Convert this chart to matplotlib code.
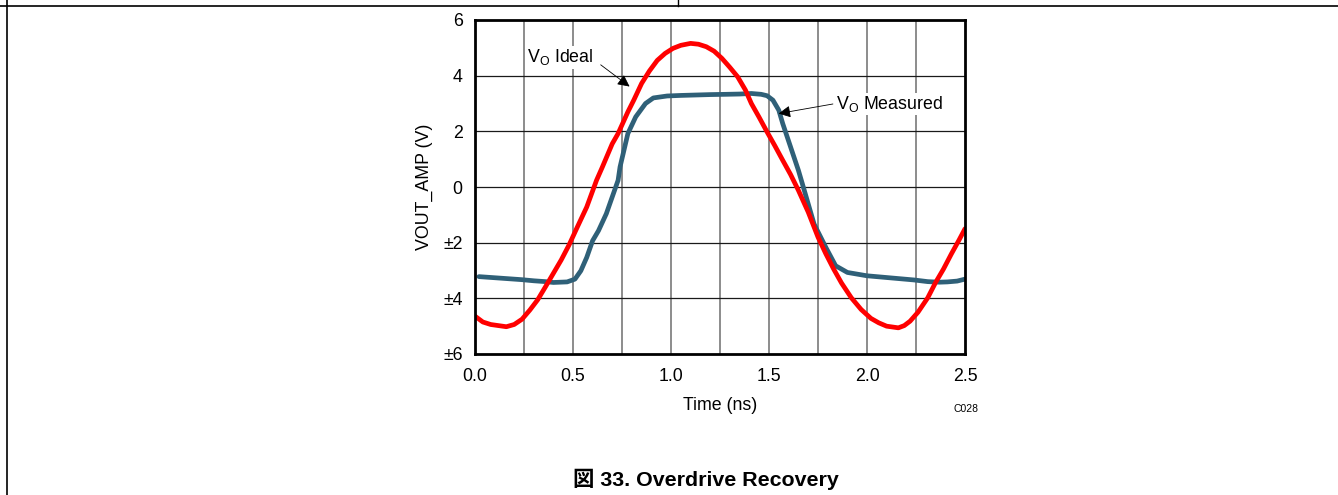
import matplotlib
matplotlib.use("Agg")
import matplotlib.pyplot as plt
from matplotlib.lines import Line2D

plt.rcParams['font.family'] = ['Liberation Sans', 'Noto Sans CJK JP', 'DejaVu Sans']
plt.rcParams['mathtext.fontset'] = 'custom'
plt.rcParams['mathtext.rm'] = 'Liberation Sans'

# V_O Ideal (red)
ideal_t = [0.0, 0.04, 0.08, 0.12, 0.16, 0.20, 0.24, 0.28, 0.32, 0.36, 0.40, 0.44, 0.48,
           0.52, 0.57, 0.62, 0.65, 0.70, 0.73, 0.78, 0.81, 0.85, 0.89, 0.93, 0.97, 1.01,
           1.05, 1.10, 1.14, 1.18, 1.22, 1.26, 1.30, 1.34, 1.38, 1.41, 1.45, 1.49, 1.53,
           1.57, 1.61, 1.65, 1.70, 1.75, 1.79, 1.83, 1.87, 1.92, 1.97, 2.02, 2.06, 2.10,
           2.16, 2.19, 2.22, 2.26, 2.31, 2.35, 2.39, 2.43, 2.47, 2.50]
ideal_v = [-4.64, -4.85, -4.94, -4.98, -5.02, -4.94, -4.75, -4.42, -4.05, -3.58, -3.10,
           -2.62, -2.08, -1.47, -0.72, 0.24, 0.72, 1.55, 1.92, 2.70, 3.12, 3.72, 4.17,
           4.55, 4.80, 4.98, 5.09, 5.16, 5.13, 5.04, 4.88, 4.62, 4.30, 3.96, 3.48, 3.00,
           2.50, 1.98, 1.48, 0.96, 0.45, -0.12, -0.90, -1.80, -2.40, -2.95, -3.45, -3.98,
           -4.40, -4.72, -4.88, -5.00, -5.06, -4.98, -4.82, -4.50, -3.98, -3.43, -2.95,
           -2.41, -1.90, -1.50]

# V_O Measured (blue)
meas_t = [0.02, 0.08, 0.16, 0.24, 0.30, 0.36, 0.40, 0.47, 0.51, 0.54, 0.57, 0.60, 0.63,
          0.67, 0.70, 0.73, 0.74, 0.78, 0.82, 0.87, 0.91, 0.98, 1.05, 1.10, 1.20, 1.28,
          1.35, 1.41, 1.46, 1.49, 1.52, 1.55, 1.57, 1.61, 1.65, 1.68, 1.73, 1.79, 1.84,
          1.90, 2.00, 2.08, 2.16, 2.24, 2.31, 2.37, 2.41, 2.46, 2.50]
meas_v = [-3.22, -3.25, -3.29, -3.33, -3.37, -3.40, -3.43, -3.41, -3.31, -3.01, -2.53,
          -1.93, -1.57, -0.96, -0.36, 0.24, 0.72, 1.92, 2.52, 3.00, 3.20, 3.27, 3.29,
          3.30, 3.32, 3.33, 3.34, 3.36, 3.33, 3.28, 3.12, 2.76, 2.28, 1.44, 0.60, -0.12,
          -1.33, -2.17, -2.83, -3.07, -3.19, -3.24, -3.29, -3.34, -3.40, -3.42, -3.41,
          -3.38, -3.31]

x_ticks = [0.0, 0.5, 1.0, 1.5, 2.0, 2.5]
x_tick_labels = ['0.0', '0.5', '1.0', '1.5', '2.0', '2.5']
y_ticks = [-6, -4, -2, 0, 2, 4, 6]
y_tick_labels = ['±6', '±4', '±2', '0', '2', '4', '6']

fs = 12.8

fig = plt.figure(figsize=(13.38, 4.95), dpi=100)
ax = fig.add_axes([475 / 1338, 1 - 354 / 495, 490 / 1338, 334 / 495])

# grid: grey verticals every 0.25 ns, dark horizontals every 2 V
for gx in [i * 0.25 for i in range(1, 10)]:
    ax.axvline(gx, color='#6e6e6e', lw=1.1, zorder=1)
for gy in [-4, -2, 0, 2, 4]:
    ax.axhline(gy, color='#1a1a1a', lw=0.9, zorder=1)

ax.plot(ideal_t, ideal_v, color='#ff0000', lw=3.4, zorder=3, solid_capstyle='round')
ax.plot(meas_t, meas_v, color='#2f6078', lw=3.4, zorder=2, solid_capstyle='round')

ax.set_xlim(0, 2.5)
ax.set_ylim(-6, 6)
ax.set_xticks(x_ticks)
ax.set_xticklabels(x_tick_labels)
ax.set_yticks(y_ticks)
ax.set_yticklabels(y_tick_labels)
ax.tick_params(axis='y', length=0, labelsize=fs, pad=9)
ax.tick_params(axis='x', length=0, labelsize=fs, pad=10)
for s in ax.spines.values():
    s.set_linewidth(2.0)
    s.set_zorder(4)

ax.set_xlabel('Time (ns)', fontsize=fs)
ax.set_ylabel('VOUT_AMP (V)', fontsize=fs)
ax.xaxis.set_label_coords(0.5, -0.128)
ax.yaxis.set_label_coords(-0.086, 0.5)

# annotations
ax.text(0.435, 4.66, r'V$_\mathregular{O}$ Ideal', fontsize=fs, ha='center', va='center',
        bbox=dict(fc='white', ec='none', pad=1), zorder=5)
ax.annotate('', xy=(0.80, 3.55), xytext=(0.63, 4.45),
            arrowprops=dict(arrowstyle='-|>', color='black', lw=0.6, mutation_scale=18),
            zorder=5)
ax.text(2.116, 2.98, r'V$_\mathregular{O}$ Measured', fontsize=fs, ha='center', va='center',
        bbox=dict(fc='white', ec='none', pad=1), zorder=5)
ax.annotate('', xy=(1.535, 2.62), xytext=(1.84, 3.0),
            arrowprops=dict(arrowstyle='-|>', color='black', lw=0.6, mutation_scale=18),
            zorder=5)

fig.text(966 / 1338, 1 - 409 / 495, 'C028', fontsize=7.5, ha='center', va='center')
fig.text(706 / 1338, 1 - 479 / 495, '図 33. Overdrive Recovery', fontsize=15.4,
         fontweight='bold', ha='center', va='center')

# page frame lines
fig.add_artist(Line2D([0, 1], [1 - 6 / 495, 1 - 6 / 495], color='black', lw=1.2))
fig.add_artist(Line2D([7 / 1338, 7 / 1338], [0, 1], color='black', lw=1.2))
fig.add_artist(Line2D([678 / 1338, 678 / 1338], [1 - 6 / 495, 1], color='black', lw=1.0))

fig.savefig('out.png', dpi=100)
